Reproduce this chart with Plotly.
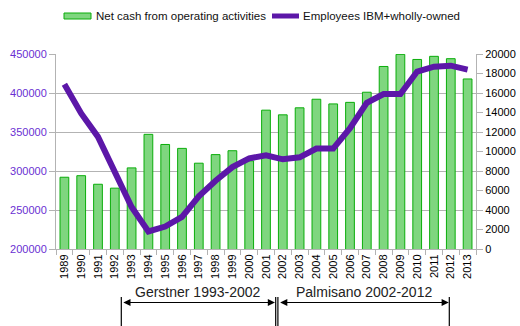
import plotly.graph_objects as go

years = [str(y) for y in range(1989, 2014)]
net_cash = [292000, 294000, 283000, 278000, 304000, 347000, 334000, 329000, 310000, 321000,
            326000, 313000, 378000, 372000, 381000, 392000, 386000, 388000, 401000, 434000,
            449500, 443000, 447000, 444000, 418000]
employees = [16900, 13900, 11500, 8000, 4300, 1800, 2300, 3300, 5400, 7000,
             8400, 9300, 9600, 9200, 9400, 10300, 10300, 12400, 15000, 15900,
             15900, 18200, 18700, 18800, 18400]
bar_name = "Net cash from operating activities"
line_name = "Employees IBM+wholly-owned"
eras = ["Gerstner 1993-2002", "Palmisano 2002-2012"]

W, H = 520, 326
L, R, T, B = 56, 44, 54, 77
PW, PH = W - L - R, H - T - B

def px(x):
    return (x - L) / PW

def py(y):
    return (H - B - y) / PH

BAR_FILL = "#7fd67f"
BAR_LINE = "#0aad0a"
LINE_COL = "#5c17a8"
GRID = "#b3b3b3"
FONT = "Liberation Sans"

fig = go.Figure()
fig.add_trace(go.Bar(x=years, y=net_cash, name=bar_name, width=0.52,
                     marker=dict(color=BAR_FILL, line=dict(color=BAR_LINE, width=1)),
                     yaxis="y", showlegend=False))
fig.add_trace(go.Scatter(x=years, y=employees, name=line_name, mode="lines",
                         line=dict(color=LINE_COL, width=6), yaxis="y2", showlegend=False))

shapes = []
annotations = []
# custom legend
shapes.append(dict(type="rect", xref="paper", yref="paper", x0=px(64), x1=px(91), y0=py(19), y1=py(13),
                   fillcolor=BAR_FILL, line=dict(color=BAR_LINE, width=1)))
annotations.append(dict(xref="paper", yref="paper", x=px(94), y=py(16), text=bar_name, showarrow=False,
                        xanchor="left", yanchor="middle", font=dict(family=FONT, size=11.5, color="#111")))
shapes.append(dict(type="line", xref="paper", yref="paper", x0=px(272), x1=px(299), y0=py(16), y1=py(16),
                   line=dict(color=LINE_COL, width=5)))
annotations.append(dict(xref="paper", yref="paper", x=px(301), y=py(16), text=line_name, showarrow=False,
                        xanchor="left", yanchor="middle", font=dict(family=FONT, size=11.5, color="#111")))

# era markers
for xv in [121.3, 275.7, 277.9, 449.3]:
    shapes.append(dict(type="line", xref="paper", yref="paper", x0=px(xv), x1=px(xv), y0=py(297), y1=py(330),
                       line=dict(color="black", width=1.2)))
for (x0, x1), label in zip([(121.8, 275.0), (278.6, 448.8)], eras):
    annotations.append(dict(xref="paper", yref="paper", x=px(x1), y=py(302.5), ax=x0 - x1, ay=0,
                            axref="pixel", ayref="pixel", text="", showarrow=True,
                            arrowhead=2, arrowside="end+start", arrowsize=1.2, arrowwidth=1.2,
                            arrowcolor="black", standoff=0, startstandoff=0))
    annotations.append(dict(xref="paper", yref="paper", x=px((x0 + x1) / 2), y=py(292), text=label,
                            showarrow=False, xanchor="center", yanchor="middle",
                            font=dict(family=FONT, size=14, color="#222")))

fig.update_layout(
    width=W, height=H, margin=dict(l=L, r=R, t=T, b=B, autoexpand=False),
    paper_bgcolor="white", plot_bgcolor="white",
    font=dict(family=FONT, size=11, color="black"),
    bargap=0.48,
    xaxis=dict(type="category", tickangle=-90, ticks="outside", ticklen=5, tickcolor=GRID,
               tickson="boundaries", showline=True, linecolor=GRID, linewidth=1,
               showgrid=False, automargin=False, tickfont=dict(size=11, color="black")),
    yaxis=dict(range=[200000, 450000], dtick=50000, tickformat="d", ticks="outside", ticklen=6,
               tickcolor=GRID, showline=True, linecolor=GRID, gridcolor=GRID, gridwidth=1,
               automargin=False, tickfont=dict(size=11, color="#6a2fd2"), zeroline=False),
    yaxis2=dict(range=[0, 20000], dtick=2000, tickformat="d", overlaying="y", side="right",
                ticks="outside", ticklen=6, tickcolor=GRID, showline=True, linecolor=GRID,
                showgrid=False, zeroline=False, automargin=False,
                tickfont=dict(size=11, color="black")),
    shapes=shapes, annotations=annotations,
)

fig.write_html("out.html")
